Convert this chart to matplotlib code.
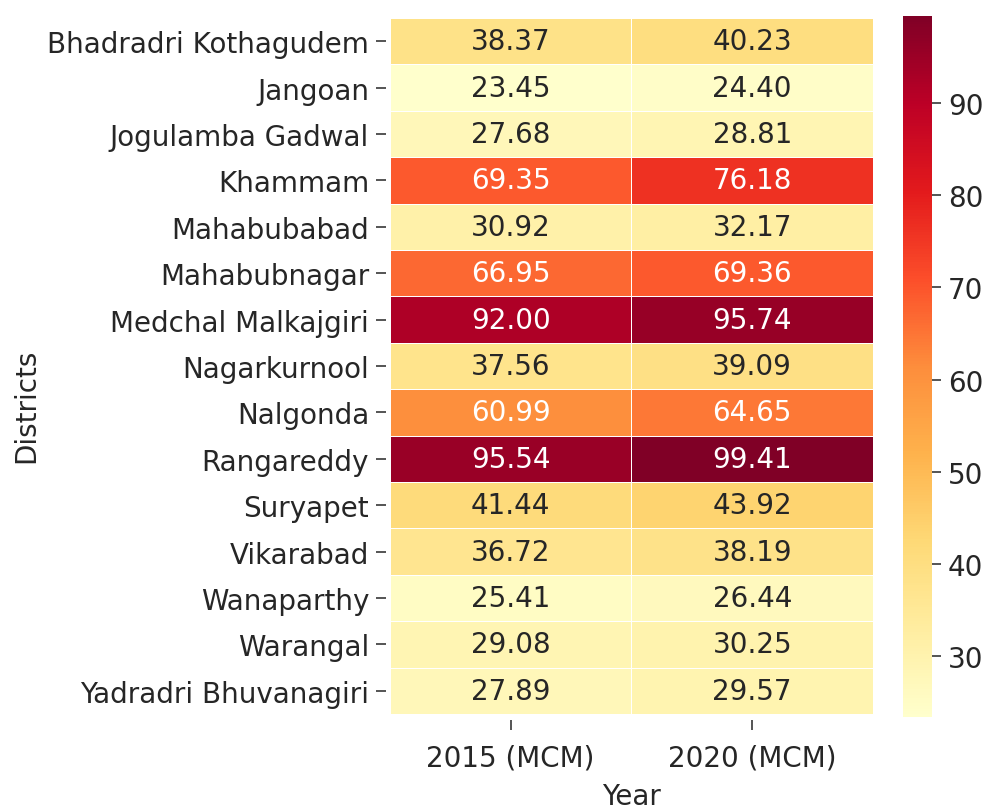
import matplotlib
matplotlib.use('Agg')
import matplotlib.pyplot as plt
import seaborn as sns
import pandas as pd

districts = ['Bhadradri Kothagudem', 'Jangoan', 'Jogulamba Gadwal', 'Khammam',
             'Mahabubabad', 'Mahabubnagar', 'Medchal Malkajgiri', 'Nagarkurnool',
             'Nalgonda', 'Rangareddy', 'Suryapet', 'Vikarabad', 'Wanaparthy',
             'Warangal', 'Yadradri Bhuvanagiri']
demand_2015 = [38.37, 23.45, 27.68, 69.35, 30.92, 66.95, 92.00, 37.56,
               60.99, 95.54, 41.44, 36.72, 25.41, 29.08, 27.89]
demand_2020 = [40.23, 24.40, 28.81, 76.18, 32.17, 69.36, 95.74, 39.09,
               64.65, 99.41, 43.92, 38.19, 26.44, 30.25, 29.57]

df = pd.DataFrame({'2015 (MCM)': demand_2015, '2020 (MCM)': demand_2020},
                  index=districts)
df.index.name = 'Districts'
df.columns.name = 'Year'

plt.rcParams['font.size'] = 20
plt.rcParams['text.color'] = '#262626'
plt.rcParams['axes.labelcolor'] = '#262626'
plt.rcParams['xtick.color'] = '#262626'
plt.rcParams['ytick.color'] = '#262626'

fig = plt.figure(figsize=(9.87, 8.12), dpi=100)
ax = fig.add_axes([0.395, 0.1195, 0.4895, 0.8571])
cax = fig.add_axes([0.915, 0.116, 0.0294, 0.863])

sns.heatmap(df, annot=True, fmt='.2f', cmap='YlOrRd', linewidths=0.5,
            linecolor='white', ax=ax, cbar_ax=cax, annot_kws={'size': 20})

# ticks sit a little away from the cells, as in the original
ax.spines['left'].set_position(('outward', 3))
ax.spines['bottom'].set_position(('outward', 4))
ax.tick_params(axis='y', length=7, width=1.1, pad=5, labelsize=20, rotation=0)
ax.tick_params(axis='x', length=7, width=1.1, pad=10, labelsize=20, rotation=0)
cax.tick_params(labelsize=20, length=6.5, width=1.1, pad=5)

ax.set_xlabel('Year', fontsize=20)
ax.set_ylabel('Districts', fontsize=20)
ax.xaxis.set_label_coords(0.64, 0.018, transform=fig.transFigure)
ax.yaxis.set_label_coords(0.027, 0.5, transform=fig.transFigure)
ax.xaxis.label.set_va('center')
ax.yaxis.label.set_va('center')

fig.savefig('out.png', dpi=100)
